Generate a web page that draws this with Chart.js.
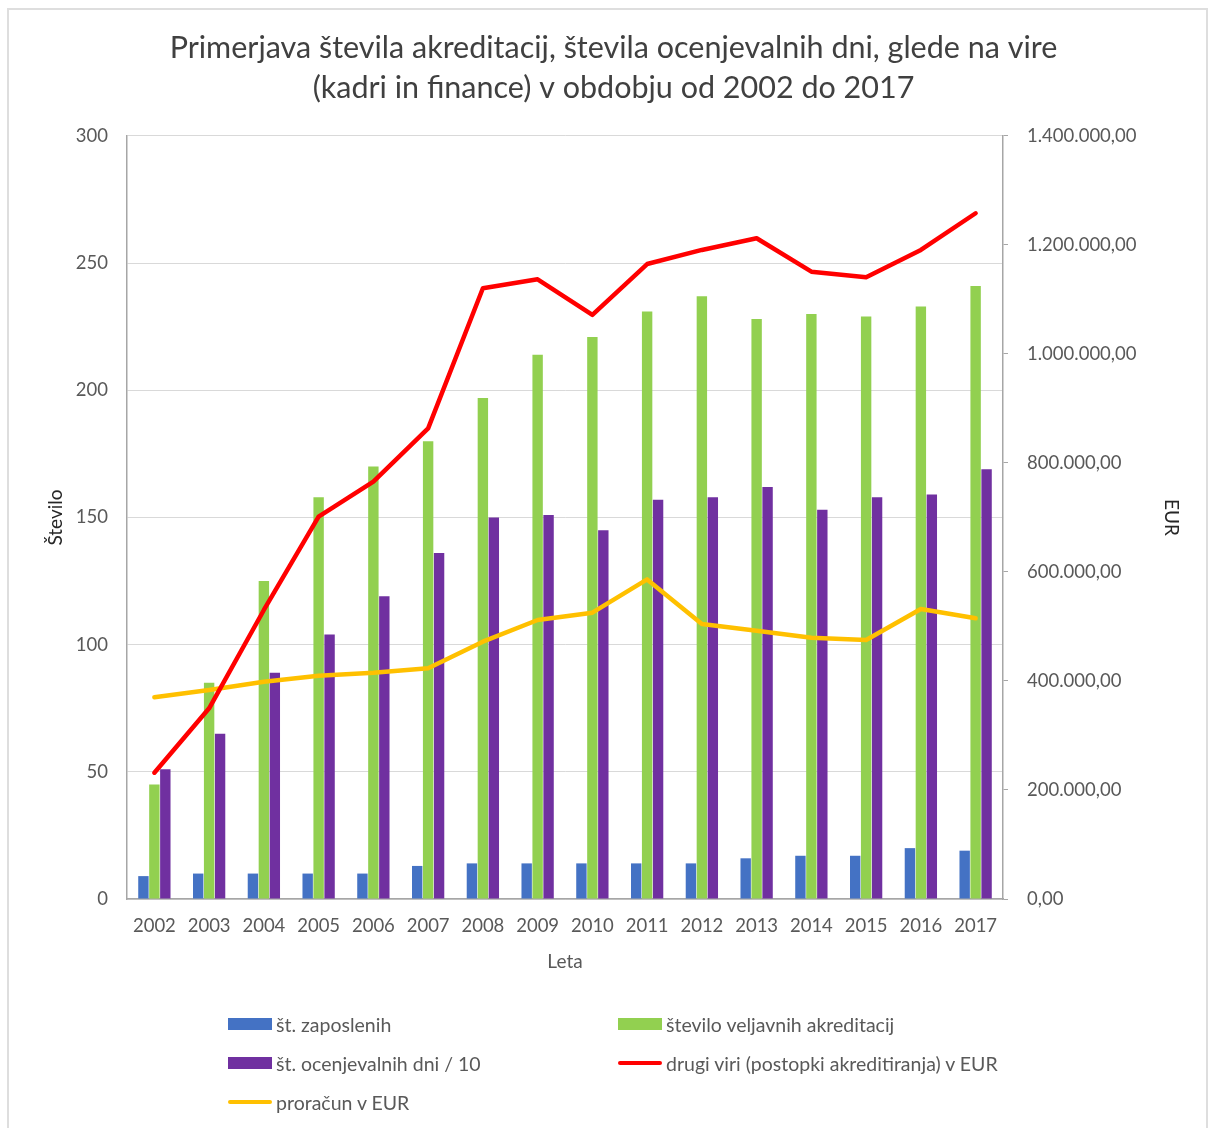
<!DOCTYPE html>
<html>
<head>
<meta charset="utf-8">
<script src="https://cdn.jsdelivr.net/npm/chart.js@4.4.1/dist/chart.umd.min.js"></script>
<style>
  html, body { margin: 0; padding: 0; background: #fff; }
  #wrap { position: relative; width: 1212px; height: 1128px; overflow: hidden; }
  #frame { position: absolute; left: 7px; top: 8px; width: 1201px; height: 1140px; border: 2px solid #dedede; box-sizing: border-box; }
  #chart { position: absolute; left: 0; top: 0; }
  .lg { position: absolute; display: flex; align-items: center; font: 19.5px Lato, sans-serif; color: #595959; white-space: nowrap; }
  .lg i { display: inline-block; width: 44px; margin-right: 4px; }
</style>
</head>
<body>
<div id="wrap">
  <div id="frame"></div>
  <canvas id="chart" width="1212" height="1128"></canvas>
  <div id="legend"></div>
</div>
<script>
// barve kot v Excelu
const PALETTE = {
  blue: "#4472C4",
  green: "#92D050",
  purple: "#7030A0",
  red: "#FF0000",
  yellow: "#FFC000",
  text: "#595959",
  title: "#404040",
  grid: "#d9d9d9",
  axis: "#a6a6a6",
};

const FONT = "Lato, sans-serif";

// ------------------------------------------------------------
// podatki
// ------------------------------------------------------------
const leta = ["2002", "2003", "2004", "2005", "2006", "2007", "2008", "2009",
  "2010", "2011", "2012", "2013", "2014", "2015", "2016", "2017"];
const zaposleni = [9, 10, 10, 10, 10, 13, 14, 14, 14, 14, 14, 16, 17, 17, 20, 19];
const akreditacije = [45, 85, 125, 158, 170, 180, 197, 214, 221, 231, 237, 228, 230, 229, 233, 241];
const ocenjevalniDni = [51, 65, 89, 104, 119, 136, 150, 151, 145, 157, 158, 162, 153, 158, 159, 169];
const drugiViri = [231700, 349900, 530300, 701500, 765700, 863600, 1120500, 1137000,
  1071600, 1165000, 1190900, 1212300, 1151000, 1140600, 1190900, 1258200];
const proracun = [370100, 383500, 398700, 409700, 415200, 423200, 472100, 511900,
  525300, 586400, 504600, 492300, 479500, 475200, 532100, 515000];

// 1.400.000,00
function eur(v) {
  const s = Math.round(v).toString().replace(/\B(?=(\d{3})+(?!\d))/g, ".");
  return s + ",00";
}

const barDs = (label, data, color) => ({
  type: "bar",
  label,
  data,
  backgroundColor: color,
  borderWidth: 0,
  yAxisID: "y",
  order: 3,
  barPercentage: 0.95,
  categoryPercentage: 0.6,
});

const lineDs = (label, data, color, order) => ({
  type: "line",
  label,
  data,
  borderColor: color,
  backgroundColor: color,
  borderWidth: 4.5,
  pointRadius: 0,
  tension: 0,
  borderCapStyle: "round",
  borderJoinStyle: "round",
  yAxisID: "y1",
  order,
});

const chart = new Chart(document.getElementById("chart"), {
  data: {
    labels: leta,
    datasets: [
      barDs("št. zaposlenih", zaposleni, PALETTE.blue),
      barDs("število veljavnih akreditacij", akreditacije, PALETTE.green),
      barDs("št. ocenjevalnih dni / 10", ocenjevalniDni, PALETTE.purple),
      lineDs("drugi viri (postopki akreditiranja) v EUR", drugiViri, PALETTE.red, 1),
      lineDs("proračun v EUR", proracun, PALETTE.yellow, 2),
    ],
  },
  options: {
    responsive: false,
    animation: false,
    layout: { padding: { left: 44, right: 29, top: 0, bottom: 155 } },
    plugins: {
      legend: { display: false },
      tooltip: { enabled: false },
      title: {
        display: true,
        text: [
          "Primerjava števila akreditacij, števila ocenjevalnih dni, glede na vire",
          "(kadri in finance) v obdobju od 2002 do 2017",
        ],
        color: PALETTE.title,
        font: { family: FONT, size: 30.5, weight: "normal", lineHeight: 1.311 },
        padding: { top: 28, bottom: 28 },
      },
    },
    scales: {
      x: {
        grid: { display: false, drawTicks: false },
        border: { color: PALETTE.axis, width: 1.5 },
        ticks: { color: PALETTE.text, padding: 16, font: { family: FONT, size: 18.5 } },
        title: { display: true, text: "Leta", color: PALETTE.text, padding: 0, font: { family: FONT, size: 19 } },
        afterFit: (s) => { s.height = 74; },
      },
      y: {
        position: "left",
        min: 0,
        max: 300,
        ticks: { stepSize: 50, color: PALETTE.text, padding: 19, font: { family: FONT, size: 18.5 } },
        grid: { color: PALETTE.grid, drawTicks: false },
        border: { color: PALETTE.axis, width: 1.5 },
        title: { display: true, text: "Število", color: "#262626", padding: 0, font: { family: FONT, size: 19 } },
        afterFit: (s) => { s.width = 83; },
      },
      y1: {
        position: "right",
        min: 0,
        max: 1400000,
        ticks: { stepSize: 200000, color: PALETTE.text, padding: 19, callback: (v) => eur(v), font: { family: FONT, size: 18.5 } },
        grid: { drawOnChartArea: false, drawTicks: true, tickLength: 5, color: PALETTE.axis },
        border: { color: PALETTE.axis, width: 1.5 },
        title: { display: true, text: "EUR", color: "#262626", padding: 0, font: { family: FONT, size: 19 } },
        afterFit: (s) => { s.width = 180; },
      },
    },
  },
});

// legenda v dveh stolpcih, kot v izvirniku
const legendCols = [228, 618];
const legendRows = [1024, 1063, 1102];
const legendEl = document.getElementById("legend");
chart.data.datasets.forEach((ds, i) => {
  const item = document.createElement("div");
  item.className = "lg";
  item.style.left = legendCols[i % 2] + "px";
  item.style.top = (legendRows[Math.floor(i / 2)] - 12) + "px";
  item.style.height = "24px";
  const sw = document.createElement("i");
  if (ds.type === "bar") {
    sw.style.height = "12px";
    sw.style.background = ds.backgroundColor;
  } else {
    sw.style.height = "4px";
    sw.style.borderRadius = "2px";
    sw.style.background = ds.borderColor;
  }
  item.appendChild(sw);
  item.appendChild(document.createTextNode(ds.label));
  legendEl.appendChild(item);
});
</script>
</body>
</html>
